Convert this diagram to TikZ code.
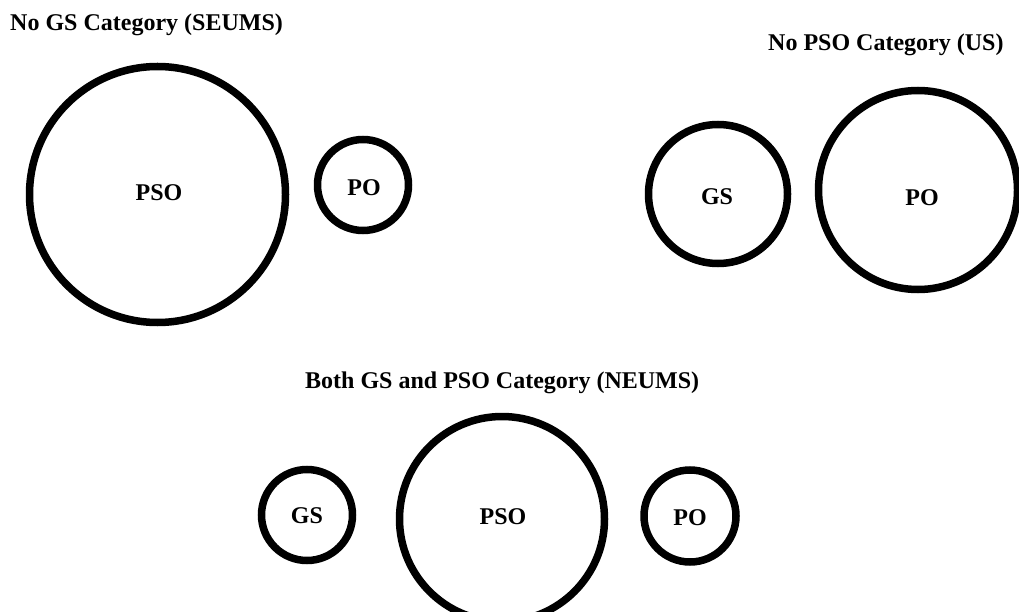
\documentclass[tikz,border=0pt]{standalone}
\usepackage{fontspec}
\setmainfont{Liberation Serif}
\begin{document}
\begin{tikzpicture}[x=1pt,y=-1pt,
  ring/.style={circle,draw=black,line width=7.5pt,inner sep=0pt},
  tag/.style={inner sep=0pt,font=\fontsize{24}{28}\selectfont\bfseries},
  heading/.style={inner sep=0pt,anchor=base west,font=\fontsize{24}{28}\selectfont\bfseries}]
\useasboundingbox[fill=white] (0,0) rectangle (1019,612);

% Group 1: no GS category
\node[heading] (h1) at (10,31) {No GS Category (SEUMS)};
\node[ring,minimum size=256pt] (c1) at (157.5,194.5) {};
\node[tag] (t1) at (159,193) {PSO};
\node[ring,minimum size=91pt] (c2) at (363,185) {};
\node[tag] (t2) at (364,188) {PO};

% Group 2: no PSO category
\node[heading] (h2) at (768,51) {No PSO Category (US)};
\node[ring,minimum size=139pt] (c3) at (718,194) {};
\node[tag] (t3) at (717,197) {GS};
\node[ring,minimum size=199pt] (c4) at (918,190) {};
\node[tag] (t4) at (922,198) {PO};

% Group 3: both GS and PSO categories
\node[heading] (h3) at (305,388) {Both GS and PSO Category (NEUMS)};
\node[ring,minimum size=91pt] (c5) at (307,515) {};
\node[tag] (t5) at (307,516) {GS};
\node[ring,minimum size=205pt] (c6) at (502,519) {};
\node[tag] (t6) at (503,517) {PSO};
\node[ring,minimum size=92pt] (c7) at (690,516) {};
\node[tag] (t7) at (690,518) {PO};
\end{tikzpicture}
\end{document}
